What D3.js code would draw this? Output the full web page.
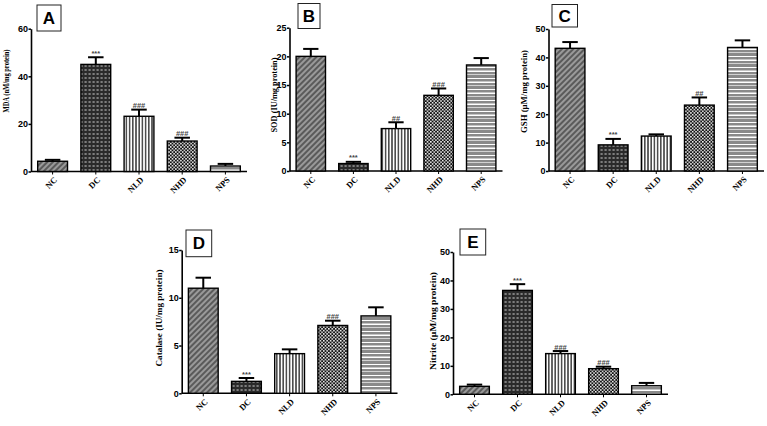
<!DOCTYPE html>
<html>
<head>
<meta charset="utf-8">
<script src="https://cdn.jsdelivr.net/npm/d3@7"></script>
<style>
  body { margin: 0; background: #fff; }
  svg { display: block; }
</style>
</head>
<body>
<script>
const width = 767;
const height = 426;

// groups on the x axis
const groups = ["NC", "DC", "NLD", "NHD", "NPS"];

// A - MDA
const mdaMean = [4.3, 45.0, 23.2, 12.8, 2.3];
const mdaSem = [0.6, 3.0, 2.8, 1.4, 0.9];
const mdaSig = ["", "***", "###", "###", ""];
const mdaTicks = [0, 20, 40, 60];

// B - SOD
const sodMean = [20.0, 1.3, 7.4, 13.2, 18.5];
const sodSem = [1.3, 0.3, 1.1, 1.2, 1.2];
const sodSig = ["", "***", "##", "###", ""];
const sodTicks = [0, 5, 10, 15, 20, 25];

// C - GSH
const gshMean = [43.2, 9.2, 12.3, 23.2, 43.5];
const gshSem = [2.2, 2.1, 0.6, 2.7, 2.5];
const gshSig = ["", "***", "", "##", ""];
const gshTicks = [0, 10, 20, 30, 40, 50];

// D - Catalase
const catMean = [11.0, 1.25, 4.15, 7.1, 8.1];
const catSem = [1.1, 0.35, 0.45, 0.5, 0.9];
const catSig = ["", "***", "", "###", ""];
const catTicks = [0, 5, 10, 15];

// E - Nitrite
const nitMean = [2.8, 36.5, 14.3, 9.0, 3.0];
const nitSem = [0.6, 2.2, 0.9, 0.7, 1.0];
const nitSig = ["", "***", "###", "###", ""];
const nitTicks = [0, 10, 20, 30, 40, 50];

const panelLetters = ["A", "B", "C", "D", "E"];
const yTitles = [
  "MDA (nM/mg protein)",
  "SOD (IU/mg protein)",
  "GSH (\u03bcM/mg protein)",
  "Catalase (IU/mg protein)",
  "Nitrite (\u03bcM/mg protein)"
];

// layout of each small chart (pixels)
const panels = [
  {mean: mdaMean, sem: mdaSem, sig: mdaSig, ticks: mdaTicks, left: 31, right: 247, top: 28.7, bottom: 171.5,
   box: {x: 37, y: 5, w: 24, h: 26}, title: {x: 8.8, y: 81, len: 63}},
  {mean: sodMean, sem: sodSem, sig: sodSig, ticks: sodTicks, left: 289.5, right: 502.5, top: 27.7, bottom: 171,
   box: {x: 298, y: 3.5, w: 22, h: 25}, title: {x: 276.5, y: 95, len: 75}},
  {mean: gshMean, sem: gshSem, sig: gshSig, ticks: gshTicks, left: 548.5, right: 764, top: 29, bottom: 171,
   box: {x: 552, y: 4.5, w: 25.5, h: 22.5}, title: {x: 527, y: 91.5, len: 83}},
  {mean: catMean, sem: catSem, sig: catSig, ticks: catTicks, left: 181.7, right: 397.5, top: 250, bottom: 393.3,
   box: {x: 186, y: 230, w: 25.7, h: 26.7}, title: {x: 161.5, y: 318, len: 97}},
  {mean: nitMean, sem: nitSem, sig: nitSig, ticks: nitTicks, left: 453, right: 668, top: 252, bottom: 394.3,
   box: {x: 460, y: 229, w: 25.7, h: 26}, title: {x: 435.5, y: 321, len: 98}}
];

const svg = d3.select("body").append("svg")
  .attr("width", width)
  .attr("height", height);

// fill patterns, one per group
const defs = svg.append("defs");

const pNC = defs.append("pattern").attr("id", "pat-NC")
  .attr("patternUnits", "userSpaceOnUse").attr("width", 4).attr("height", 4)
  .attr("patternTransform", "rotate(45)");
pNC.append("rect").attr("width", 4).attr("height", 4).attr("fill", "#5a5a5a");
pNC.append("line").attr("x1", 2).attr("x2", 2).attr("y1", 0).attr("y2", 4)
  .attr("stroke", "#e8e8e8").attr("stroke-width", 0.9);

const pDC = defs.append("pattern").attr("id", "pat-DC")
  .attr("patternUnits", "userSpaceOnUse").attr("width", 4).attr("height", 4);
pDC.append("rect").attr("width", 4).attr("height", 4).attr("fill", "#2a2a2a");
pDC.append("rect").attr("x", 0.5).attr("y", 1.5).attr("width", 2.2).attr("height", 1).attr("fill", "#cfcfcf");

const pNLD = defs.append("pattern").attr("id", "pat-NLD")
  .attr("patternUnits", "userSpaceOnUse").attr("width", 3.2).attr("height", 4);
pNLD.append("rect").attr("width", 3.2).attr("height", 4).attr("fill", "#fff");
pNLD.append("line").attr("x1", 1.6).attr("x2", 1.6).attr("y1", 0).attr("y2", 4)
  .attr("stroke", "#111").attr("stroke-width", 1.2);

const pNHD = defs.append("pattern").attr("id", "pat-NHD")
  .attr("patternUnits", "userSpaceOnUse").attr("width", 3.4).attr("height", 3.4);
pNHD.append("rect").attr("width", 3.4).attr("height", 3.4).attr("fill", "#111");
pNHD.append("rect").attr("width", 1.5).attr("height", 1.5).attr("fill", "#fff");
pNHD.append("rect").attr("x", 1.7).attr("y", 1.7).attr("width", 1.5).attr("height", 1.5).attr("fill", "#fff");

const pNPS = defs.append("pattern").attr("id", "pat-NPS")
  .attr("patternUnits", "userSpaceOnUse").attr("width", 4).attr("height", 11);
pNPS.append("rect").attr("width", 4).attr("height", 11).attr("fill", "#8a8a8a");
pNPS.append("rect").attr("y", 1).attr("width", 4).attr("height", 1).attr("fill", "#fff");
pNPS.append("rect").attr("y", 4.5).attr("width", 4).attr("height", 1.5).attr("fill", "#fff");
pNPS.append("rect").attr("y", 8).attr("width", 4).attr("height", 0.7).attr("fill", "#f2f2f2");

panels.forEach((p, i) => {
  const g = svg.append("g");

  const x = d3.scaleBand()
    .domain(groups)
    .range([p.left, p.right])
    .paddingInner(0.31)
    .paddingOuter(0.155);

  const y = d3.scaleLinear()
    .domain([0, d3.max(p.ticks)])
    .range([p.bottom, p.top]);

  // y axis
  g.append("g")
    .attr("transform", `translate(${p.left},0)`)
    .call(d3.axisLeft(y).tickValues(p.ticks).tickSize(2.5).tickSizeOuter(0).tickPadding(0.5))
    .call(a => a.select(".domain").attr("stroke", "#000").attr("stroke-width", 1.6))
    .call(a => a.selectAll(".tick line").attr("stroke", "#000").attr("stroke-width", 1.5))
    .call(a => a.selectAll(".tick text")
      .attr("fill", "#000")
      .style("font-family", "'Liberation Sans', Arial, sans-serif")
      .style("font-weight", "bold")
      .style("font-size", "9px"));

  // x axis with group labels at 45 degrees
  g.append("g")
    .attr("transform", `translate(0,${p.bottom})`)
    .call(d3.axisBottom(x).tickSize(3).tickSizeOuter(0))
    .call(a => a.select(".domain").attr("stroke", "#000").attr("stroke-width", 1.6)
      .attr("d", `M${p.left},0H${p.right}`))
    .call(a => a.selectAll(".tick line").attr("stroke", "#000").attr("stroke-width", 1))
    .call(a => a.selectAll(".tick text")
      .attr("fill", "#000")
      .attr("text-anchor", "end")
      .attr("y", 0)
      .attr("dy", null)
      .attr("transform", "translate(5,9) rotate(-45)")
      .style("font-family", "'Liberation Serif', 'Times New Roman', serif")
      .style("font-weight", "bold")
      .style("font-size", "8.5px"));

  const rows = groups.map((k, j) => ({key: k, mean: p.mean[j], sem: p.sem[j], sig: p.sig[j]}));

  // error bars (upper only), drawn under the bars
  const capW = x.bandwidth() * 0.52;
  const eb = g.append("g").selectAll("g").data(rows).join("g")
    .attr("stroke", "#000").attr("stroke-width", 2);
  eb.append("line")
    .attr("x1", d => x(d.key) + x.bandwidth() / 2)
    .attr("x2", d => x(d.key) + x.bandwidth() / 2)
    .attr("y1", d => y(d.mean))
    .attr("y2", d => y(d.mean + d.sem));
  eb.append("line")
    .attr("x1", d => x(d.key) + x.bandwidth() / 2 - capW / 2)
    .attr("x2", d => x(d.key) + x.bandwidth() / 2 + capW / 2)
    .attr("y1", d => y(d.mean + d.sem))
    .attr("y2", d => y(d.mean + d.sem));

  // bars
  g.append("g").selectAll("rect").data(rows).join("rect")
    .attr("x", d => x(d.key))
    .attr("y", d => y(d.mean))
    .attr("width", x.bandwidth())
    .attr("height", d => y(0) - y(d.mean))
    .attr("fill", d => `url(#pat-${d.key})`)
    .attr("stroke", "#000")
    .attr("stroke-width", 1.4);

  // significance marks
  g.append("g").selectAll("text").data(rows.filter(d => d.sig)).join("text")
    .attr("x", d => x(d.key) + x.bandwidth() / 2)
    .attr("y", d => y(d.mean + d.sem) - 1.5)
    .attr("text-anchor", "middle")
    .attr("fill", "#444")
    .style("font-family", "'Liberation Sans', Arial, sans-serif")
    .style("font-weight", "bold")
    .style("font-size", "7.5px")
    .text(d => d.sig);

  // y title
  g.append("text")
    .attr("transform", `translate(${p.title.x},${p.title.y}) rotate(-90)`)
    .attr("text-anchor", "middle")
    .attr("textLength", p.title.len)
    .attr("lengthAdjust", "spacingAndGlyphs")
    .attr("fill", "#000")
    .style("font-family", "'Liberation Serif', 'Times New Roman', serif")
    .style("font-weight", "bold")
    .style("font-size", "8px")
    .text(yTitles[i]);

  // panel letter box
  g.append("rect")
    .attr("x", p.box.x).attr("y", p.box.y)
    .attr("width", p.box.w).attr("height", p.box.h)
    .attr("fill", "#fff").attr("stroke", "#222").attr("stroke-width", 1);
  g.append("text")
    .attr("x", p.box.x + p.box.w / 2)
    .attr("y", p.box.y + p.box.h / 2 + 6)
    .attr("text-anchor", "middle")
    .attr("fill", "#000")
    .style("font-family", "'Liberation Sans', Arial, sans-serif")
    .style("font-weight", "bold")
    .style("font-size", "17px")
    .text(panelLetters[i]);
});
</script>
</body>
</html>
